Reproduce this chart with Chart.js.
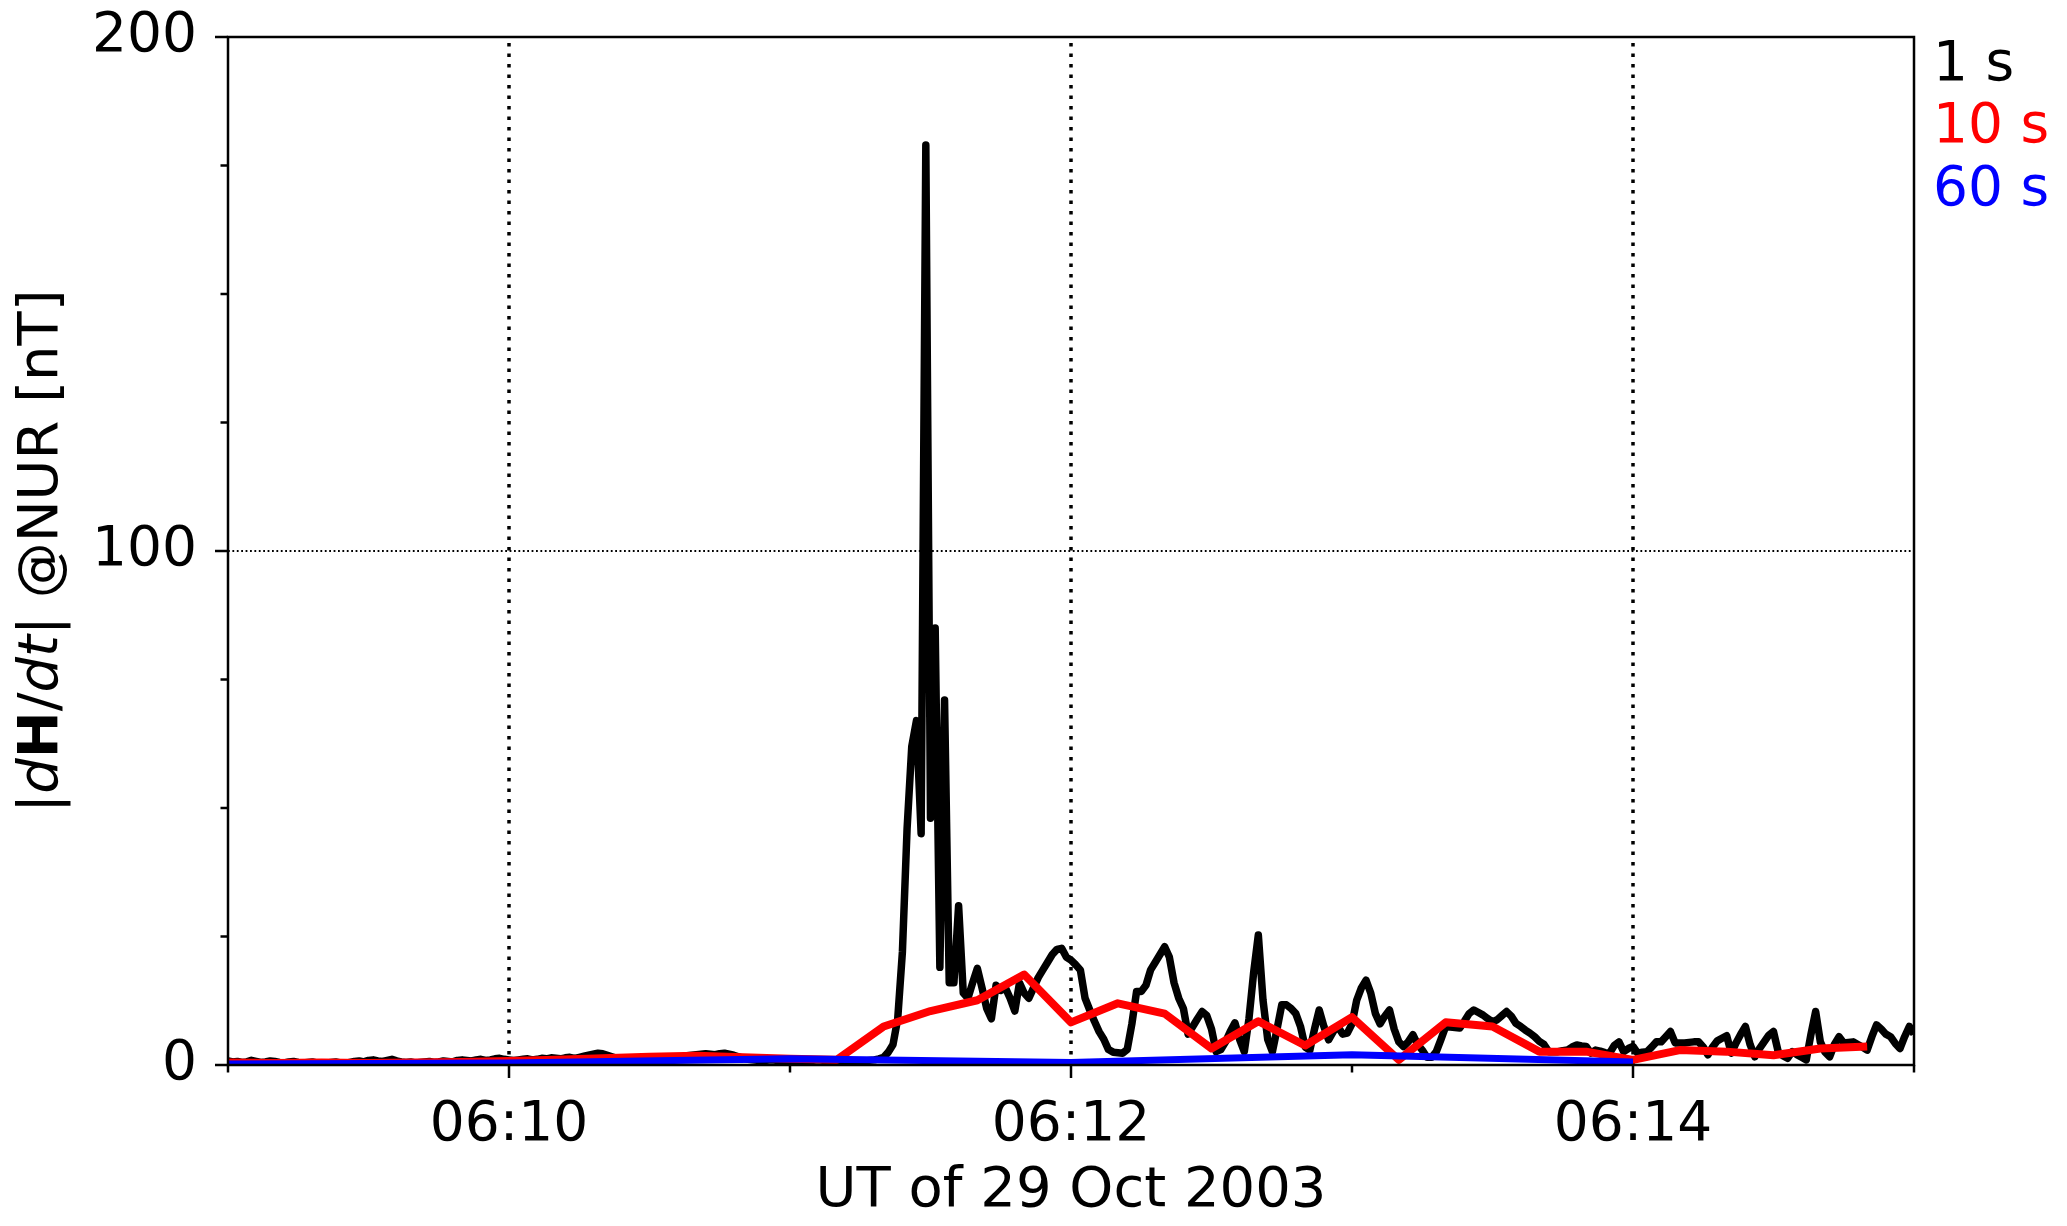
<!DOCTYPE html>
<html>
<head>
<meta charset="utf-8">
<title>dH/dt NUR</title>
<script src="https://cdn.jsdelivr.net/npm/chart.js@4.4.1/dist/chart.umd.min.js"></script>
<style>
  html, body { margin: 0; padding: 0; background: #fff; }
  canvas { display: block; }
</style>
</head>
<body>
<canvas id="chart" width="2067" height="1226"></canvas>
<script>
// seconds after 06:09:00 UT, 29 Oct 2003
var xMin = 0, xMax = 360;
var xTickSeconds = [60, 180, 300];
var xTickLabels = ["06:10", "06:12", "06:14"];
var xMinorSeconds = [0, 120, 240, 360];
var yTickValues = [0, 100, 200];
var yTickLabels = ["0", "100", "200"];
var yMinorValues = [25, 50, 75, 125, 150, 175];

var seriesNames = ["1 s", "10 s", "60 s"];
var seriesColors = ["#000000", "#ff0000", "#0000ff"];

// 1 s data, one value per second from 06:09:00
var dHdt1s = [
  0.8,0.6,0.7,0.5,0.6,0.9,0.7,0.5,0.6,0.8,
  0.7,0.5,0.4,0.6,0.7,0.5,0.4,0.5,0.6,0.4,
  0.3,0.4,0.5,0.6,0.4,0.3,0.5,0.7,0.8,0.6,
  0.9,1.0,0.8,0.7,0.9,1.1,0.8,0.6,0.5,0.6,
  0.4,0.5,0.6,0.7,0.5,0.6,0.8,0.7,0.6,0.9,
  1.0,0.9,0.8,1.0,1.1,0.9,1.0,1.2,1.3,1.1,
  1.0,0.9,1.0,1.1,1.2,1.0,1.1,1.3,1.2,1.4,
  1.3,1.2,1.4,1.5,1.3,1.5,1.7,1.9,2.1,2.3,
  2.2,1.9,1.6,1.3,1.1,1.0,0.9,1.0,1.1,1.2,
  1.3,1.2,1.1,1.0,1.2,1.3,1.4,1.6,1.8,1.9,
  2.0,2.1,2.2,2.1,2.0,2.2,2.3,2.1,1.9,1.6,
  1.3,1.1,1.0,0.9,0.8,0.9,1.0,0.9,0.8,0.7,
  0.8,0.9,0.8,0.7,0.8,0.9,1.0,0.9,0.8,0.9,
  0.8,0.7,0.8,0.9,0.8,0.7,0.8,0.9,1.0,1.2,
  1.5,2.5,4,9,22,46,62,67,45,179,
  48,85,19,71,16,16,31,14,13,16,
  18.8,15,11,9,15.5,14.5,15,13,10.5,16,
  14,13,15,17,18.5,20,21.5,22.5,22.7,21,
  20.4,19.5,18.5,13,10.7,8.5,6.5,5,3,2.5,
  2.4,2.3,3,8,14.3,14.3,15.5,18.5,20,21.5,
  23,21,16,13,11,6,7.5,9,10.4,9.6,
  7,2.6,3,4.5,6.5,8.2,5,2.6,9,18,
  25.3,12.6,5,2.6,7,11.7,11.7,11,10,7.5,
  3.5,2.9,7,10.7,7.5,4.9,6.5,7.5,6,6.2,
  8,12.6,15,16.5,14,10,8,9.5,10.7,7,
  4.5,3.6,4.5,5.9,4,2.9,1.5,1.5,2.6,5,
  7.5,7.4,7.3,7.2,8.5,10,10.7,10.2,9.7,9,
  8.4,8.8,9.6,10.4,9.5,8.1,7.5,6.8,6.2,5.5,
  4.6,4,2.6,2.6,2.6,2.8,2.9,3.5,3.9,3.7,
  3.6,2.3,2.9,2.7,2.4,2.3,3.8,4.5,2.6,3.2,
  3.6,2.3,2.5,2.6,3.5,4.5,4.5,5.5,6.5,4.3,
  4.3,4.3,4.4,4.5,4.5,3.5,2,3.5,4.7,5.2,
  5.7,2.3,4.3,6,7.5,4,1.6,3.2,4.5,5.8,
  6.5,2.6,1.8,1.3,2.6,2,1.5,1,6,10.4,
  4.5,2.5,1.6,4,5.5,4.3,4.4,4.5,4,3.5,
  2.9,5.5,7.8,7,6,5.5,4.2,3.2,5.5,7.5,
  6
];
// 10 s data, every 10 s from 06:09:00 to 06:14:50
var dHdt10s = [
  0.5,0.4,0.5,0.4,0.5,0.6,0.8,1.0,1.3,1.6,1.8,1.5,1.2,1.0,
  7.5,10.5,12.6,17.6,8.3,12,10,3.2,8.5,3.8,9.3,1,8.3,7.5,
  2.6,2.6,1,2.9,2.6,1.9,3.2,3.6
];
// 60 s data, every minute from 06:09 to 06:14
var dHdt60s = [0.2, 0.4, 1.2, 0.5, 2.0, 0.6];

function toPoints(values, step) {
  var pts = [];
  for (var i = 0; i < values.length; i++) pts.push({x: i * step, y: values[i]});
  return pts;
}

var FONT = "'DejaVu Sans', sans-serif";

var decor = {
  id: 'decor',
  beforeDatasetsDraw: function(chart) {
    var ctx = chart.ctx, a = chart.chartArea;
    var xs = chart.scales.x, ys = chart.scales.y;
    ctx.save();
    ctx.strokeStyle = '#000';
    // vertical dotted grid
    ctx.lineWidth = 3.5;
    ctx.setLineDash([3.5, 7]);
    xTickSeconds.forEach(function(s) {
      var px = Math.round(xs.getPixelForValue(s));
      ctx.beginPath();
      ctx.moveTo(px, a.bottom);
      ctx.lineTo(px, a.top);
      ctx.stroke();
    });
    // horizontal dotted grid at 100
    ctx.lineWidth = 1.8;
    ctx.setLineDash([1.8, 2.6]);
    var py = Math.round(ys.getPixelForValue(100));
    ctx.beginPath();
    ctx.moveTo(a.left, py);
    ctx.lineTo(a.right, py);
    ctx.stroke();
    ctx.restore();
  },
  afterDraw: function(chart) {
    var ctx = chart.ctx, a = chart.chartArea;
    var xs = chart.scales.x, ys = chart.scales.y;
    ctx.save();
    ctx.strokeStyle = '#000';
    ctx.lineWidth = 2.5;
    ctx.setLineDash([]);
    ctx.strokeRect(a.left, a.top, a.right - a.left, a.bottom - a.top);
    // ticks
    function xt(s, len) {
      var px = xs.getPixelForValue(s);
      ctx.beginPath(); ctx.moveTo(px, a.bottom); ctx.lineTo(px, a.bottom + len); ctx.stroke();
    }
    function yt(v, len) {
      var py = ys.getPixelForValue(v);
      ctx.beginPath(); ctx.moveTo(a.left, py); ctx.lineTo(a.left - len, py); ctx.stroke();
    }
    xTickSeconds.forEach(function(s) { xt(s, 13); });
    xMinorSeconds.forEach(function(s) { xt(s, 7.5); });
    yTickValues.forEach(function(v) { yt(v, 13); });
    yMinorValues.forEach(function(v) { yt(v, 7.5); });

    // x title
    ctx.fillStyle = '#000';
    ctx.font = '56px ' + FONT;
    ctx.textAlign = 'center';
    ctx.textBaseline = 'alphabetic';
    ctx.fillText('UT of 29 Oct 2003', (a.left + a.right) / 2, 1206);

    // y title with mixed styles
    var parts = [
      ['|', ''], ['d', 'italic '], ['H', 'bold '], ['/', ''], ['dt', 'italic '], ['| @NUR [nT]', '']
    ];
    var total = 0;
    parts.forEach(function(p) { ctx.font = p[1] + '56px ' + FONT; total += ctx.measureText(p[0]).width; });
    ctx.translate(57, (a.top + a.bottom) / 2);
    ctx.rotate(-Math.PI / 2);
    ctx.textAlign = 'left';
    var cx = -total / 2;
    parts.forEach(function(p) {
      ctx.font = p[1] + '56px ' + FONT;
      ctx.fillText(p[0], cx, 0);
      cx += ctx.measureText(p[0]).width;
    });
    ctx.restore();

    // series labels at top right
    ctx.save();
    ctx.font = '55px ' + FONT;
    ctx.textAlign = 'left';
    ctx.textBaseline = 'alphabetic';
    var base = [80, 142, 205];
    seriesNames.forEach(function(n, i) {
      ctx.fillStyle = seriesColors[i];
      ctx.fillText(n, 1933, base[i]);
    });
    ctx.restore();
  }
};

new Chart(document.getElementById('chart'), {
  type: 'line',
  data: {
    datasets: [{
      label: seriesNames[0],
      data: toPoints(dHdt1s, 1),
      borderColor: seriesColors[0],
      borderWidth: 7.5,
      order: 3
    }, {
      label: seriesNames[1],
      data: toPoints(dHdt10s, 10),
      borderColor: seriesColors[1],
      borderWidth: 8,
      order: 2
    }, {
      label: seriesNames[2],
      data: toPoints(dHdt60s, 60),
      borderColor: seriesColors[2],
      borderWidth: 7,
      order: 1
    }]
  },
  options: {
    responsive: false,
    animation: false,
    devicePixelRatio: 1,
    layout: { padding: { top: 37, right: 153, left: 0, bottom: 0 } },
    elements: {
      point: { radius: 0 },
      line: { tension: 0, fill: false, borderJoinStyle: 'round', borderCapStyle: 'butt' }
    },
    plugins: { legend: { display: false }, tooltip: { enabled: false } },
    scales: {
      x: {
        type: 'linear',
        min: xMin, max: xMax,
        afterBuildTicks: function(s) {
          s.ticks = xTickSeconds.map(function(v) { return {value: v}; });
        },
        afterFit: function(s) { s.height = 161; s.paddingLeft = 0; s.paddingRight = 0; },
        grid: { display: false, drawTicks: false },
        border: { display: false },
        ticks: {
          autoSkip: false, maxRotation: 0, padding: 28, color: '#000',
          font: { family: FONT, size: 55 },
          callback: function(v) { return xTickLabels[xTickSeconds.indexOf(v)]; }
        }
      },
      y: {
        min: 0, max: 200,
        afterBuildTicks: function(s) {
          s.ticks = yTickValues.map(function(v) { return {value: v}; });
        },
        afterFit: function(s) { s.width = 228; s.paddingTop = 0; s.paddingBottom = 0; },
        grid: { display: false, drawTicks: false },
        border: { display: false },
        ticks: {
          autoSkip: false, padding: 31, color: '#000',
          font: { family: FONT, size: 55 },
          callback: function(v) { return yTickLabels[yTickValues.indexOf(v)]; }
        }
      }
    }
  },
  plugins: [decor]
});
</script>
</body>
</html>
